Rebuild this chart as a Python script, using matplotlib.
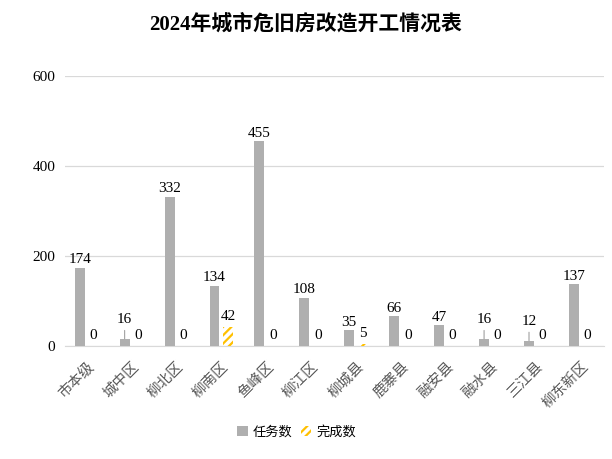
import numpy as np
import matplotlib
matplotlib.use("Agg")
import matplotlib.pyplot as plt

plt.rcParams['font.family'] = ['Liberation Serif', 'Noto Sans CJK SC', 'DejaVu Sans']
plt.rcParams['hatch.linewidth'] = 1.6

# 数据
categories = ['市本级', '城中区', '柳北区', '柳南区', '鱼峰区', '柳江区',
              '柳城县', '鹿寨县', '融安县', '融水县', '三江县', '柳东新区']
task = [174, 16, 332, 134, 455, 108, 35, 66, 47, 16, 12, 137]
done = [0, 0, 0, 42, 0, 0, 5, 0, 0, 0, 0, 0]
yticks = [0, 200, 400, 600]

gray = '#AFAFAF'
orange = '#FFC000'

fig = plt.figure(figsize=(6.12, 4.59), dpi=100)
ax = fig.add_axes([0.106, 0.246, 0.881, 0.588])

x = np.arange(len(categories))
w = 0.22
b1 = ax.bar(x - 0.17, task, w, color=gray, label='任务数', zorder=3)
b2 = ax.bar(x + 0.13, done, w, facecolor='none', edgecolor=orange, linewidth=0,
            hatch='////', label='完成数', zorder=3)

# 数据标签（小数值用引导线）
for i, v in enumerate(task):
    if v < 30:
        ax.annotate(str(v), xy=(x[i] - 0.17, v), xytext=(x[i] - 0.17, v + 28),
                    ha='center', va='bottom', fontsize=11,
                    arrowprops=dict(arrowstyle='-', color='#A0A0A0', lw=0.8,
                                    shrinkA=1, shrinkB=0))
    else:
        ax.annotate(str(v), xy=(x[i] - 0.17, v), xytext=(0, 1), textcoords='offset points',
                    ha='center', va='bottom', fontsize=11)
for i, v in enumerate(done):
    ax.annotate(str(v), xy=(x[i] + 0.13, v), xytext=(0, 3), textcoords='offset points',
                ha='center', va='bottom', fontsize=11)

ax.set_ylim(0, 600)
ax.set_xlim(-0.5, len(categories) - 0.5)
ax.set_yticks(yticks)
ax.set_yticklabels([str(t) for t in yticks], fontsize=11)
ax.yaxis.grid(True, color='#D9D9D9', lw=0.9, zorder=0)
ax.tick_params(axis='y', length=0, pad=7)
ax.tick_params(axis='x', length=0, pad=10)
ax.set_xticks(x)
ax.set_xticklabels(categories, rotation=45, ha='right', rotation_mode='anchor',
                   fontsize=10.5, color='#595959')
for s in ['top', 'right', 'left']:
    ax.spines[s].set_visible(False)
ax.spines['bottom'].set_color('#D9D9D9')

fig.text(0.5, 0.948, '2024年城市危旧房改造开工情况表', ha='center', va='center',
         fontsize=15, fontweight='bold')

fig.legend(handles=[b1, b2], loc='center', bbox_to_anchor=(0.485, 1 - 432 / 459),
           ncol=2, frameon=False, fontsize=9.5, handlelength=0.8, handleheight=0.8,
           handletextpad=0.4, columnspacing=0.6)

fig.savefig('out.png', dpi=100)
